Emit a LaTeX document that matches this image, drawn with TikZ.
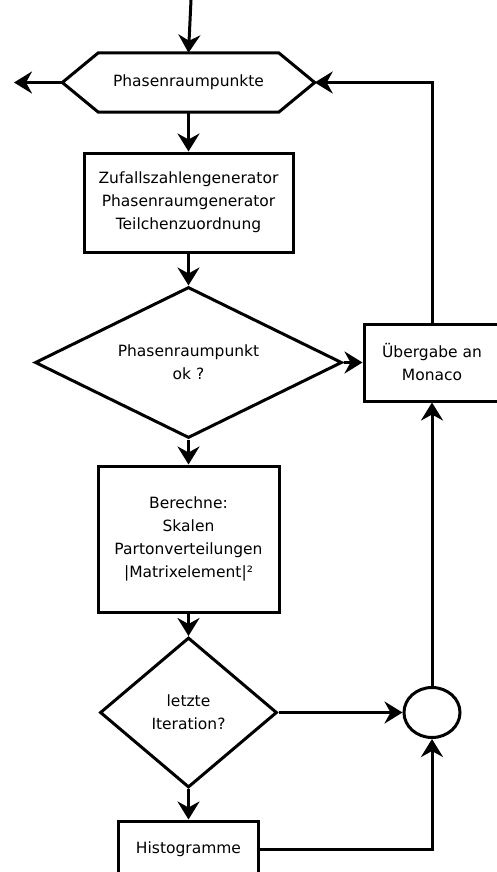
\documentclass[tikz,border=0pt]{standalone}
\usepackage{fontspec}
\setmainfont{DejaVu Sans}
\usetikzlibrary{arrows.meta,calc,shapes.geometric}
\tikzset{
  base/.style={draw, line width=3pt, inner sep=0pt, align=center,
    font=\fontsize{15.5}{23}\selectfont},
  kasten/.style={base, rectangle},
  raute/.style={base, diamond},
  kreis/.style={base, ellipse},
  pfeil/.style={line width=3pt, -{Stealth[length=18pt,width=22pt,inset=6pt]}},
  linie/.style={line width=3pt},
}

\begin{document}
\begin{tikzpicture}[x=1pt,y=-1pt]
  \useasboundingbox (0,0) rectangle (497,872);
  % hexagon: plain node, outline drawn from its anchors
  \node[font=\fontsize{15.5}{23}\selectfont, minimum width=252pt, minimum height=59pt, inner sep=0pt]
    (punkte) at (188.5,82.5) {Phasenraumpunkte};
  \draw[linie, line join=miter]
    (punkte.west) -- ($(punkte.north west)+(36,0)$) -- ($(punkte.north east)+(-36,0)$)
    -- (punkte.east) -- ($(punkte.south east)+(-36,0)$) -- ($(punkte.south west)+(36,0)$) -- cycle;
  \coordinate (start) at (191,0);
  \coordinate (aus) at (14,82.5);

  \node[kasten, minimum width=209pt, minimum height=99pt] (zufall) at (188.5,202.5)
    {Zufallszahlengenerator\\Phasenraumgenerator\\Teilchenzuordnung};
  \node[raute, aspect=2.03, minimum width=307pt, minimum height=151pt] (check) at (188.5,362.5)
    {Phasenraumpunkt\\ok ?};
  \node[kasten, minimum width=136pt, minimum height=77pt] (uebergabe) at (432,362.5)
    {Übergabe an\\Monaco};
  \node[kasten, minimum width=181pt, minimum height=146pt] (berechne) at (188.5,539)
    {Berechne:\\Skalen\\Partonverteilungen\\|Matrixelement|²};
  \node[raute, aspect=1.18, minimum width=177pt, minimum height=150pt] (iteration) at (188.5,712.5)
    {letzte\\Iteration?};
  \node[kreis, minimum width=56pt, minimum height=50pt] (zusammen) at (432,712.5) {};
  \node[kasten, minimum width=140pt, minimum height=56pt] (histo) at (188.5,849)
    {Histogramme};

  % connectors
  \draw[pfeil] (start) -- (punkte.north);
  \draw[pfeil] (punkte.west) -- (aus);
  \draw[pfeil] (uebergabe.north) |- (punkte.east);
  \draw[pfeil] (punkte.south) -- (zufall.north);
  \draw[pfeil] (zufall.south) -- (check.north);
  \draw[pfeil] (check.east) -- (uebergabe.west);
  \draw[pfeil] (check.south) -- (berechne.north);
  \draw[pfeil] (berechne.south) -- (iteration.north);
  \draw[pfeil] (iteration.east) -- (zusammen.west);
  \draw[pfeil] (iteration.south) -- (histo.north);
  \draw[pfeil] (histo.east) -| (zusammen.south);
  \draw[pfeil] (zusammen.north) -- (uebergabe.south);
\end{tikzpicture}
\end{document}
